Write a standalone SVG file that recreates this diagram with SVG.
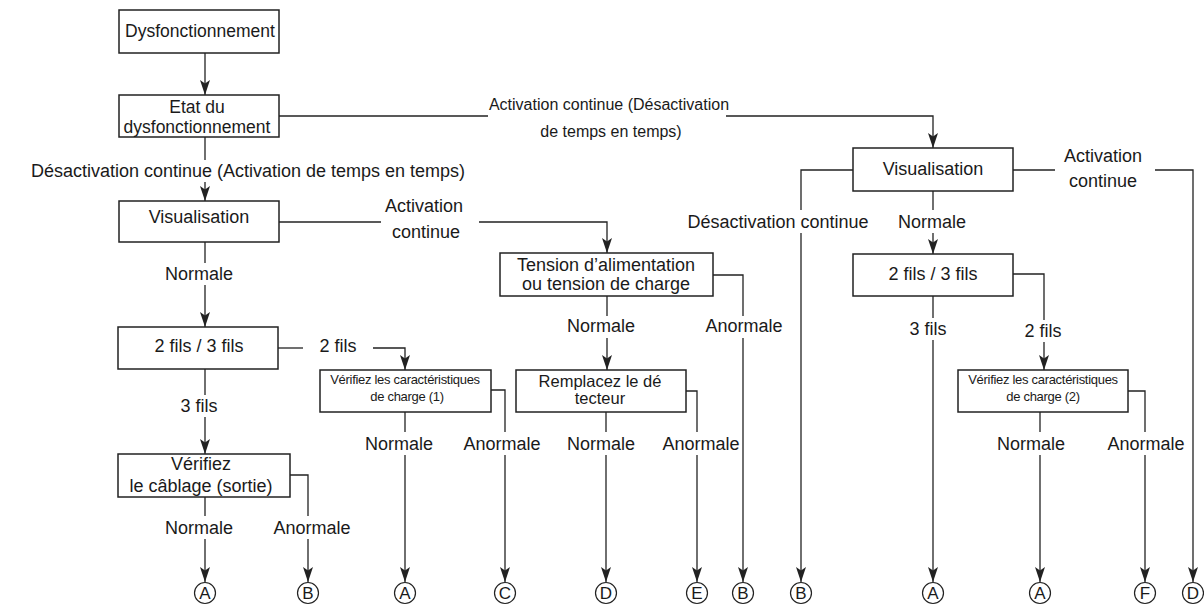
<svg xmlns="http://www.w3.org/2000/svg" width="1204" height="606" viewBox="0 0 1204 606">
<style>
.box{fill:#fff;stroke:#222;stroke-width:1.5}
.ln{fill:none;stroke:#222;stroke-width:1.3}
.t{font-family:"Liberation Sans",Arial,sans-serif;font-size:18px;fill:#1a1a1a;text-anchor:middle}
.m{font-size:16px}
.s{font-size:13px;letter-spacing:-0.3px}
.r{font-size:17.5px}
.rp{font-size:16.5px}
.cl{fill:#fff;stroke:#222;stroke-width:1.2}
.lt{font-family:"Liberation Sans",Arial,sans-serif;font-size:17px;fill:#1a1a1a;text-anchor:middle}
</style>
<defs>
<marker id="ah" markerUnits="userSpaceOnUse" markerWidth="16" markerHeight="12" refX="15" refY="5" orient="auto">
<path d="M0,0 L15,5 L0,10 L3.5,5 z" fill="#222"/>
</marker>
</defs>
<rect width="1204" height="606" fill="#fff"/>
<g id="connectors">
<path class="ln" d="M205,53 V95" marker-end="url(#ah)"/>
<path class="ln" d="M279,116 H488"/>
<path class="ln" d="M726,116 H933 V148" marker-end="url(#ah)"/>
<text class="t m" x="609" y="110">Activation continue (Désactivation</text>
<text class="t m" x="611" y="137">de temps en temps)</text>
<path class="ln" d="M205,137 V160"/>
<path class="ln" d="M205,182 V201" marker-end="url(#ah)"/>
<text class="t" x="248" y="177">Désactivation continue (Activation de temps en temps)</text>
<path class="ln" d="M279,222 H381"/>
<path class="ln" d="M479,222 H607 V253" marker-end="url(#ah)"/>
<text class="t" x="424" y="212">Activation</text>
<text class="t" x="426" y="238">continue</text>
<path class="ln" d="M205,242 V263"/>
<path class="ln" d="M205,285 V327" marker-end="url(#ah)"/>
<text class="t" x="199" y="280">Normale</text>
<path class="ln" d="M278,348 H303"/>
<path class="ln" d="M373,348 H405 V370" marker-end="url(#ah)"/>
<text class="t" x="338" y="352">2 fils</text>
<path class="ln" d="M205,369 V395"/>
<path class="ln" d="M205,417 V454" marker-end="url(#ah)"/>
<text class="t" x="199" y="412">3 fils</text>
<path class="ln" d="M205,497 V516"/>
<path class="ln" d="M205,539 V582" marker-end="url(#ah)"/>
<text class="t" x="199" y="534">Normale</text>
<path class="ln" d="M290,475 H308 V516"/>
<path class="ln" d="M308,539 V582" marker-end="url(#ah)"/>
<text class="t" x="312" y="534">Anormale</text>
<path class="ln" d="M405,412 V432"/>
<path class="ln" d="M405,455 V582" marker-end="url(#ah)"/>
<text class="t" x="399" y="450">Normale</text>
<path class="ln" d="M491,390 H505 V432"/>
<path class="ln" d="M505,455 V582" marker-end="url(#ah)"/>
<text class="t" x="502" y="450">Anormale</text>
<path class="ln" d="M607,296 V316"/>
<path class="ln" d="M607,338 V370" marker-end="url(#ah)"/>
<text class="t" x="601" y="332">Normale</text>
<path class="ln" d="M713,275 H743 V316"/>
<path class="ln" d="M743,338 V582" marker-end="url(#ah)"/>
<text class="t" x="744" y="332">Anormale</text>
<path class="ln" d="M606,412 V432"/>
<path class="ln" d="M606,455 V582" marker-end="url(#ah)"/>
<text class="t" x="601" y="450">Normale</text>
<path class="ln" d="M686,391 H697 V432"/>
<path class="ln" d="M697,455 V582" marker-end="url(#ah)"/>
<text class="t" x="701" y="450">Anormale</text>
<path class="ln" d="M853,170 H801 V210"/>
<path class="ln" d="M801,233 V582" marker-end="url(#ah)"/>
<text class="t" x="778" y="228">Désactivation continue</text>
<path class="ln" d="M933,191 V210"/>
<path class="ln" d="M933,233 V254" marker-end="url(#ah)"/>
<text class="t" x="932" y="228">Normale</text>
<path class="ln" d="M1013,170 H1055"/>
<path class="ln" d="M1155,170 H1193 V582" marker-end="url(#ah)"/>
<text class="t" x="1103" y="162">Activation</text>
<text class="t" x="1103" y="187">continue</text>
<path class="ln" d="M933,296 V318"/>
<path class="ln" d="M933,340 V582" marker-end="url(#ah)"/>
<text class="t" x="928" y="335">3 fils</text>
<path class="ln" d="M1013,274 H1044 V320"/>
<path class="ln" d="M1044,342 V370" marker-end="url(#ah)"/>
<text class="t" x="1043" y="337">2 fils</text>
<path class="ln" d="M1040,412 V432"/>
<path class="ln" d="M1040,455 V582" marker-end="url(#ah)"/>
<text class="t" x="1031" y="450">Normale</text>
<path class="ln" d="M1128,391 H1145 V432"/>
<path class="ln" d="M1145,455 V582" marker-end="url(#ah)"/>
<text class="t" x="1146" y="450">Anormale</text>
</g>
<g id="n-dysfonctionnement"><rect class="box" x="119" y="10" width="160" height="43"/><text class="t r" x="200" y="37">Dysfonctionnement</text></g>
<g id="n-etat"><rect class="box" x="119" y="95" width="160" height="42"/><text class="t r" x="197" y="113">Etat du</text><text class="t r" x="197" y="133">dysfonctionnement</text></g>
<g id="n-visu1"><rect class="box" x="119" y="201" width="160" height="41"/><text class="t" x="199" y="223">Visualisation</text></g>
<g id="n-fils1"><rect class="box" x="118" y="327" width="160" height="42"/><text class="t" x="199" y="352">2 fils / 3 fils</text></g>
<g id="n-cablage"><rect class="box" x="118" y="454" width="172" height="43"/><text class="t" x="201" y="470">Vérifiez</text><text class="t" x="201" y="492">le câblage (sortie)</text></g>
<g id="n-verif1"><rect class="box" x="320" y="370" width="171" height="42"/><text class="t s" x="405" y="384">Vérifiez les caractéristiques</text><text class="t s" x="407" y="401">de charge (1)</text></g>
<g id="n-tension"><rect class="box" x="500" y="253" width="213" height="43"/><text class="t" x="606" y="271">Tension d’alimentation</text><text class="t" x="606" y="290">ou tension de charge</text></g>
<g id="n-remplacez"><rect class="box" x="516" y="370" width="170" height="42"/><text class="t rp" x="600" y="387">Remplacez le dé</text><text class="t rp" x="600" y="404">tecteur</text></g>
<g id="n-visu2"><rect class="box" x="853" y="148" width="160" height="43"/><text class="t" x="933" y="175">Visualisation</text></g>
<g id="n-fils2"><rect class="box" x="853" y="254" width="160" height="42"/><text class="t" x="933" y="280">2 fils / 3 fils</text></g>
<g id="n-verif2"><rect class="box" x="958" y="370" width="170" height="42"/><text class="t s" x="1043" y="384">Vérifiez les caractéristiques</text><text class="t s" x="1043" y="401">de charge (2)</text></g>
<g id="n-end-a1"><circle class="cl" cx="205" cy="593" r="10.5"/><text class="lt" x="205" y="599">A</text></g>
<g id="n-end-b1"><circle class="cl" cx="308" cy="593" r="10.5"/><text class="lt" x="308" y="599">B</text></g>
<g id="n-end-a2"><circle class="cl" cx="405" cy="593" r="10.5"/><text class="lt" x="405" y="599">A</text></g>
<g id="n-end-c"><circle class="cl" cx="505" cy="593" r="10.5"/><text class="lt" x="505" y="599">C</text></g>
<g id="n-end-d1"><circle class="cl" cx="606" cy="593" r="10.5"/><text class="lt" x="606" y="599">D</text></g>
<g id="n-end-e"><circle class="cl" cx="697" cy="593" r="10.5"/><text class="lt" x="697" y="599">E</text></g>
<g id="n-end-b2"><circle class="cl" cx="743" cy="593" r="10.5"/><text class="lt" x="743" y="599">B</text></g>
<g id="n-end-b3"><circle class="cl" cx="801" cy="593" r="10.5"/><text class="lt" x="801" y="599">B</text></g>
<g id="n-end-a3"><circle class="cl" cx="933" cy="593" r="10.5"/><text class="lt" x="933" y="599">A</text></g>
<g id="n-end-a4"><circle class="cl" cx="1040" cy="593" r="10.5"/><text class="lt" x="1040" y="599">A</text></g>
<g id="n-end-f"><circle class="cl" cx="1145" cy="593" r="10.5"/><text class="lt" x="1145" y="599">F</text></g>
<g id="n-end-d2"><circle class="cl" cx="1193" cy="593" r="10.5"/><text class="lt" x="1193" y="599">D</text></g>
</svg>
